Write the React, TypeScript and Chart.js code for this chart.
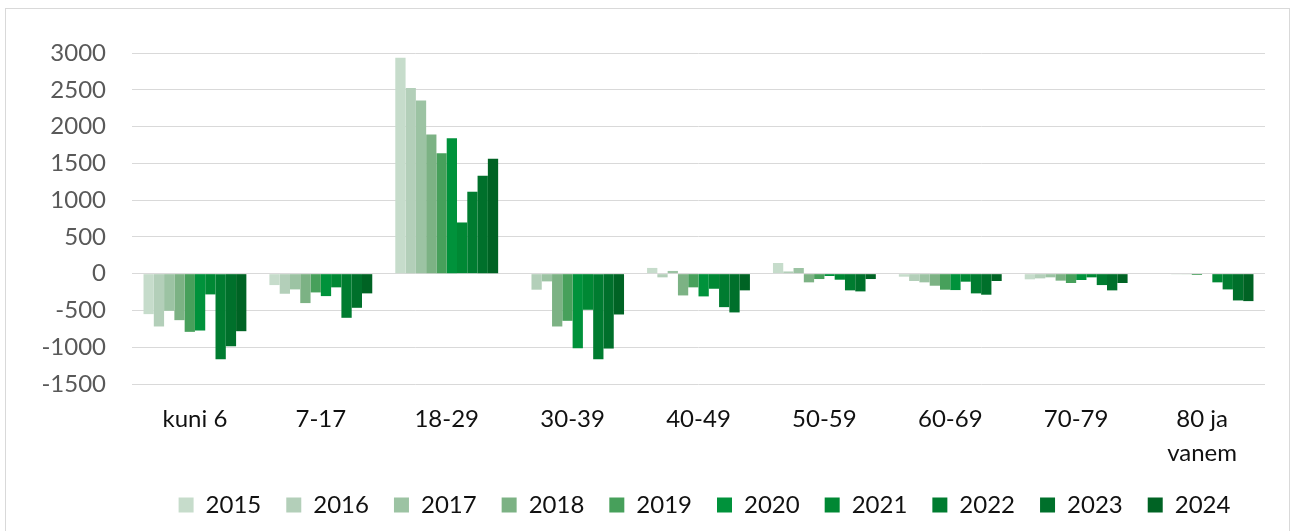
import React, { useEffect, useRef } from "react";
import { Chart, registerables } from "chart.js";

Chart.register(...registerables);

const categories: (string | string[])[] = [
  "kuni 6", "7-17", "18-29", "30-39", "40-49", "50-59", "60-69", "70-79", ["80 ja", "vanem"],
];

const years = ["2015", "2016", "2017", "2018", "2019", "2020", "2021", "2022", "2023", "2024"];

const v2015 = [-550, -155, 2937, 0, 78, 145, -41, -77, 0];
const v2016 = [-718, -273, 2523, -218, -50, 30, -100, -64, 0];
const v2017 = [-505, -214, 2355, -105, 37, 77, -118, -50, -5];
const v2018 = [-632, -400, 1892, -718, -296, -118, -164, -95, -5];
const v2019 = [-791, -255, 1637, -641, -186, -73, -218, -127, -18];
const v2020 = [-773, -305, 1841, -1014, -309, -32, -223, -86, 0];
const v2021 = [-282, -186, 696, -491, -205, -82, -109, -50, -118];
const v2022 = [-1164, -600, 1114, -1164, -455, -227, -268, -155, -214];
const v2023 = [-987, -464, 1332, -1018, -527, -241, -286, -227, -364];
const v2024 = [-782, -268, 1564, -555, -227, -73, -100, -127, -373];

const seriesValues = [v2015, v2016, v2017, v2018, v2019, v2020, v2021, v2022, v2023, v2024];

const colors = [
  "#c6dccb", "#b3cfb9", "#9cc3a3", "#7cb284", "#47a05b",
  "#00923b", "#008834", "#007c30", "#00702b", "#006324",
];

const legendShift = {
  id: "legendShift",
  afterLayout(chart: any) {
    const lg = chart.legend;
    const ca = chart.chartArea;
    if (!lg || !ca) return;
    const dx = 6;
    lg.left = ca.left + dx;
    lg.right = ca.right + dx;
    lg.top -= 2;
    lg.bottom -= 2;
  },
};

export default function App() {
  const ref = useRef<HTMLCanvasElement | null>(null);

  useEffect(() => {
    if (!ref.current) return;
    const chart = new Chart(ref.current, {
      type: "bar",
      data: {
        labels: categories,
        datasets: years.map((y, i) => ({
          label: y,
          data: seriesValues[i],
          backgroundColor: colors[i],
          borderWidth: 0,
          barPercentage: 1,
          categoryPercentage: 0.817,
        })),
      },
      plugins: [legendShift],
      options: {
        responsive: false,
        animation: false,
        devicePixelRatio: 1,
        layout: { padding: { top: 53, bottom: 2, left: 8, right: 26 } },
        plugins: {
          tooltip: { enabled: false },
          legend: {
            position: "bottom",
            labels: {
              boxWidth: 15,
              boxHeight: 15,
              padding: 25,
              color: "#111111",
              font: { family: "Lato", size: 24 },
            },
          },
        },
        scales: {
          x: {
            afterFit: (scale: any) => {
              scale.height = 86;
            },
            grid: { display: false, drawTicks: false },
            border: { display: false },
            ticks: {
              padding: 18,
              color: "#111111",
              font: { family: "Lato", size: 24, lineHeight: 1.417 },
              maxRotation: 0,
              autoSkip: false,
            },
          },
          y: {
            min: -1500,
            max: 3000,
            afterFit: (scale: any) => {
              scale.width = 124;
            },
            grid: { color: "#d9d9d9", lineWidth: 1, drawTicks: false },
            border: { display: false },
            ticks: {
              stepSize: 500,
              padding: 26,
              color: "#595959",
              font: { family: "Lato", size: 24 },
              callback: (v: any) => String(v),
            },
          },
        },
      },
    });
    return () => chart.destroy();
  }, []);

  return (
    <div style={{ position: "fixed", left: 0, top: 0, width: 1291, height: 531, overflow: "hidden", background: "#fff" }}>
      <canvas ref={ref} width={1291} height={531} style={{ position: "absolute", left: 0, top: 0, width: 1291, height: 531 }} />
      <div
        style={{
          position: "absolute",
          left: 5,
          top: 8,
          width: 1285,
          height: 600,
          border: "1px solid #d9d9d9",
          boxSizing: "border-box",
          pointerEvents: "none",
        }}
      />
    </div>
  );
}
